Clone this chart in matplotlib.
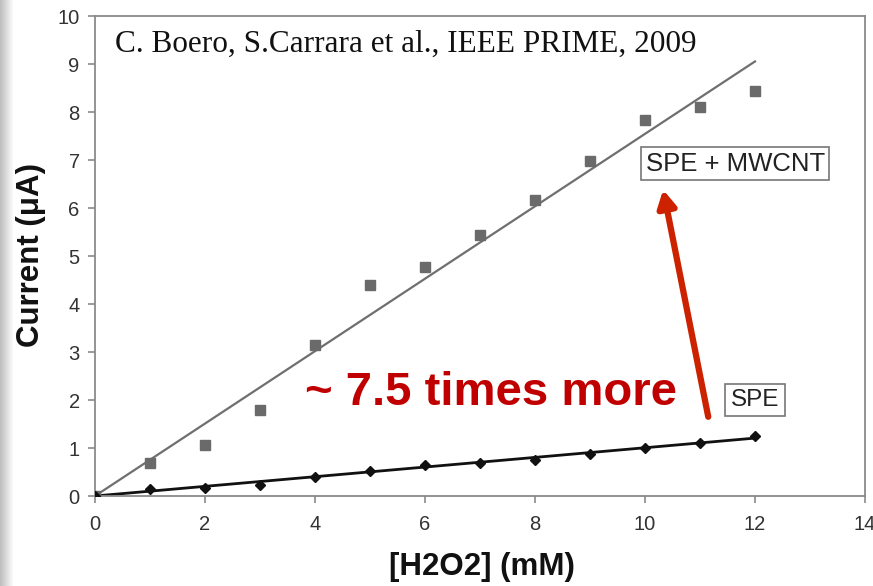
import numpy as np
import matplotlib
matplotlib.use("Agg")
import matplotlib.pyplot as plt

# ---- data ----
conc = [0, 1, 2, 3, 4, 5, 6, 7, 8, 9, 10, 11, 12]
mwcnt = [0, 0.69, 1.07, 1.80, 3.15, 4.40, 4.77, 5.44, 6.17, 6.98, 7.83, 8.10, 8.44]
spe = [0, 0.14, 0.17, 0.22, 0.39, 0.53, 0.65, 0.69, 0.76, 0.875, 1.01, 1.11, 1.25]
xticks = [0, 2, 4, 6, 8, 10, 12, 14]
yticks = [0, 1, 2, 3, 4, 5, 6, 7, 8, 9, 10]

W, H = 873, 586
fig = plt.figure(figsize=(W / 100, H / 100), dpi=100)
fig.patch.set_facecolor("white")

# left-edge shadow
sh = fig.add_axes([0, 0, 14 / W, 1])
grad = np.linspace(0.74, 1.0, 64)[None, :]
sh.imshow(np.repeat(grad, 2, axis=0), cmap="gray", vmin=0, vmax=1, aspect="auto",
          extent=[0, 1, 0, 1])
sh.axis("off")

ax = fig.add_axes([95 / W, 90 / H, 770 / W, 480 / H])
x = np.array(conc, dtype=float)
y1 = np.array(mwcnt)
y2 = np.array(spe)

# trend lines through origin (least squares)
k1 = (x * y1).sum() / (x * x).sum()
k2 = (x * y2).sum() / (x * x).sum()
xl = np.array([0, x.max()])
ax.plot(xl, k1 * xl, color="#6f6f6f", lw=1.6, zorder=2)
ax.plot(xl, k2 * xl, color="#111111", lw=2.0, zorder=2)

ax.plot(x, y1, ls="none", marker="s", ms=6.5, color="#6a6a6a", zorder=3)
ax.plot(x, y2, ls="none", marker="D", ms=5.2, color="#111111", zorder=3)

ax.set_xlim(0, 14)
ax.set_ylim(0, 10)
ax.set_xticks(xticks)
ax.set_yticks(yticks)
for s in ax.spines.values():
    s.set_color("#8a8a8a")
    s.set_linewidth(1.3)
ax.tick_params(axis="both", direction="out", length=5, width=1.2, color="#8a8a8a",
               labelsize=14.5, labelcolor="#333333")
ax.tick_params(axis="x", pad=9)
ax.tick_params(axis="y", pad=6)
for lab in ax.get_xticklabels() + ax.get_yticklabels():
    lab.set_family("Liberation Sans")

ax.set_xlabel("[H2O2] (mM)", family="Liberation Sans", fontweight="bold", fontsize=22.5,
              color="#111111", va="center")
ax.xaxis.set_label_coords((482 - 95) / 770, -(567 - 496) / 480)
ax.set_ylabel("Current (μA)", family="Liberation Sans", fontweight="bold", fontsize=22.5,
              color="#111111", va="center")
ax.yaxis.set_label_coords(-(95 - 31) / 770, (496 - 255) / 480)

ax.text(0.36, 9.25, "C. Boero, S.Carrara et al., IEEE PRIME, 2009", family="Liberation Serif",
        fontsize=22.5, color="#111111", ha="left", va="baseline")

ax.text(3.82, 1.9, "~ 7.5 times more", family="Liberation Sans", fontweight="bold",
        fontsize=34, color="#c00000", ha="left", va="baseline")

ax.annotate("", xy=(10.33, 6.38), xytext=(11.15, 1.65),
            arrowprops=dict(arrowstyle="-|>,head_length=1.0,head_width=0.55",
                            color="#cc2200", lw=4.5, shrinkA=0, shrinkB=0))

ax.text(11.64, 6.92, "SPE + MWCNT", family="Liberation Sans", fontsize=18.5, color="#222222",
        ha="center", va="center",
        bbox=dict(boxstyle="square,pad=0.18", fc="white", ec="#777777", lw=1.2))
ax.text(12.0, 2.0, "SPE", family="Liberation Sans", fontsize=17.5, color="#222222",
        ha="center", va="center",
        bbox=dict(boxstyle="square,pad=0.22", fc="white", ec="#777777", lw=1.2))

fig.savefig("out.png", dpi=100)
